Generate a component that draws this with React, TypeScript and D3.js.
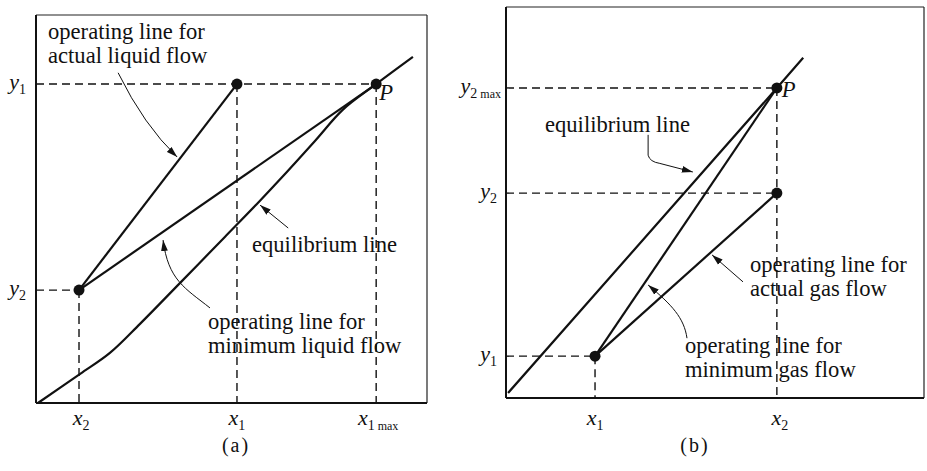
import React from "react";
import * as d3 from "d3";

const W = 927;
const H = 471;
const FONT = "'Liberation Serif', 'DejaVu Serif', serif";

// ---------- Panel (a): minimum liquid flow ----------
const aX2 = 11.0;
const aX1 = 51.4;
const aX1max = 87.0;
const aY1 = 82.2;
const aY2 = 29.1;
const aEquilibrium: [number, number][] = [
  [0.5, 0], [11.3, 7.5], [18.9, 12.9], [26.6, 20.4], [36.8, 30.9],
  [48.3, 42.8], [56.5, 51.3], [63.2, 58.5], [71.4, 67.6], [78.5, 75.6],
  [87.0, 82.2], [96.4, 89.2],
];
const aActual: [number, number][] = [[aX2, aY2], [aX1, aY1]];
const aMinimum: [number, number][] = [[aX2, aY2], [aX1max, aY1]];

// ---------- Panel (b): minimum gas flow ----------
const bX1 = 21.3;
const bX2 = 64.8;
const bY1 = 10.7;
const bY2 = 52.4;
const bY2max = 79.3;
const bEquilibrium: [number, number][] = [[0.5, 1.3], [bX2, bY2max], [71.1, 87.0]];
const bActual: [number, number][] = [[bX1, bY1], [bX2, bY2]];
const bMinimum: [number, number][] = [[bX1, bY1], [bX2, bY2max]];

type Pt = [number, number];

function Arrow({ d }: { d: string }) {
  return <path d={d} fill="none" stroke="#111" strokeWidth={1} markerEnd="url(#head)" />;
}

function MathLabel({ x, y, v, sub, extra, anchor = "middle", size = 22 }:
  { x: number; y: number; v: string; sub: string; extra?: string; anchor?: string; size?: number }) {
  return (
    <text x={x} y={y} textAnchor={anchor} fontFamily={FONT} fontSize={size} fill="#111">
      <tspan fontStyle="italic">{v}</tspan>
      <tspan fontSize={14} dy={5}>{sub}</tspan>
      {extra ? <tspan fontSize={12} dx={3}>{extra}</tspan> : null}
    </text>
  );
}

export default function App() {
  React.useEffect(() => {
    document.body.style.margin = "0";
  }, []);

  // scales for each panel
  const ax = d3.scaleLinear().domain([0, 100]).range([36, 427]);
  const ay = d3.scaleLinear().domain([0, 100]).range([403, 15]);
  const bx = d3.scaleLinear().domain([0, 100]).range([506, 924]);
  const by = d3.scaleLinear().domain([0, 100]).range([398, 7]);

  const lineA = d3.line<Pt>().x((d) => ax(d[0])).y((d) => ay(d[1]));
  const curveA = d3.line<Pt>().x((d) => ax(d[0])).y((d) => ay(d[1])).curve(d3.curveCatmullRom.alpha(0.5));
  const lineB = d3.line<Pt>().x((d) => bx(d[0])).y((d) => by(d[1]));

  // leader paths
  const pA1 = d3.path();
  pA1.moveTo(ax(21.0), ay(85.1));
  pA1.quadraticCurveTo(ax(27.6), ay(71.6), ax(36.1), ay(63.4));
  const pA2 = d3.path();
  pA2.moveTo(ax(44.5), ay(24.5));
  pA2.bezierCurveTo(ax(38.1), ay(29.6), ax(33.8), ay(31.7), ax(32.5), ay(42.0));
  const pA3 = d3.path();
  pA3.moveTo(ax(64.5), ay(45.1));
  pA3.lineTo(ax(57.3), ay(51.0));

  const pB1 = d3.path();
  pB1.moveTo(bx(34.0), by(67.3));
  pB1.lineTo(bx(34.0), by(62.1));
  pB1.quadraticCurveTo(bx(34.4), by(60.4), bx(36.8), by(60.0));
  pB1.lineTo(bx(44.7), by(57.8));
  const pB2 = d3.path();
  pB2.moveTo(bx(56.7), by(29.7));
  pB2.lineTo(bx(49.3), by(36.6));
  const pB3 = d3.path();
  pB3.moveTo(bx(43.3), by(15.3));
  pB3.bezierCurveTo(bx(42.6), by(20.5), bx(39.7), by(23.8), bx(34.0), by(28.9));

  const dash = "8 5";
  const main = { fill: "none", stroke: "#111", strokeWidth: 2.2 } as const;
  const dashed = { stroke: "#111", strokeWidth: 1.4, strokeDasharray: dash } as const;
  const txt = { fontFamily: FONT, fontSize: 22.6, fill: "#111" } as const;

  return (
    <svg width={W} height={H} style={{ display: "block", position: "absolute", left: 0, top: 0, background: "#fff" }}>
      <defs>
        <marker id="head" markerUnits="userSpaceOnUse" markerWidth={12} markerHeight={8} refX={11} refY={4} orient="auto">
          <path d="M0,0.6 L11,4 L0,7.4 z" fill="#111" />
        </marker>
      </defs>
      <rect width={W} height={H} fill="#fff" />

      {/* ----- panel (a) ----- */}
      <g>
        <line x1={ax(0)} x2={ax(100)} y1={ay(100)} y2={ay(100)} stroke="#222" strokeWidth={1.2} />
        <line x1={ax(100)} x2={ax(100)} y1={ay(100)} y2={ay(0)} stroke="#222" strokeWidth={1.2} />
        <line x1={ax(0)} x2={ax(0)} y1={ay(100)} y2={ay(0)} stroke="#111" strokeWidth={2} />
        <line x1={ax(0)} x2={ax(100)} y1={ay(0)} y2={ay(0)} stroke="#111" strokeWidth={2} />

        <line x1={ax(0)} x2={ax(aX1max)} y1={ay(aY1)} y2={ay(aY1)} {...dashed} />
        <line x1={ax(0)} x2={ax(aX2)} y1={ay(aY2)} y2={ay(aY2)} {...dashed} />
        <line x1={ax(aX2)} x2={ax(aX2)} y1={ay(aY2)} y2={ay(0)} {...dashed} />
        <line x1={ax(aX1)} x2={ax(aX1)} y1={ay(aY1)} y2={ay(0)} {...dashed} />
        <line x1={ax(aX1max)} x2={ax(aX1max)} y1={ay(aY1)} y2={ay(0)} {...dashed} />

        <path d={curveA(aEquilibrium) || ""} {...main} />
        <path d={lineA(aActual) || ""} {...main} />
        <path d={lineA(aMinimum) || ""} {...main} />

        <circle cx={ax(aX2)} cy={ay(aY2)} r={5.5} fill="#111" />
        <circle cx={ax(aX1)} cy={ay(aY1)} r={5.5} fill="#111" />
        <circle cx={ax(aX1max)} cy={ay(aY1)} r={5.5} fill="#111" />
        <text x={ax(aX1max) + 3} y={ay(aY1) + 16} {...txt} fontStyle="italic">P</text>

        <Arrow d={pA1.toString()} />
        <Arrow d={pA2.toString()} />
        <Arrow d={pA3.toString()} />

        <text x={48} y={39} {...txt}>operating line for</text>
        <text x={48} y={63} {...txt}>actual liquid flow</text>
        <text x={252} y={252} {...txt}>equilibrium line</text>
        <text x={208} y={329} {...txt}>operating line for</text>
        <text x={208} y={353} {...txt}>minimum liquid flow</text>

        <MathLabel x={ax(0) - 10} y={ay(aY1) + 5} v="y" sub="1" anchor="end" />
        <MathLabel x={ax(0) - 10} y={ay(aY2) + 5} v="y" sub="2" anchor="end" />
        <MathLabel x={ax(aX2) + 2} y={425} v="x" sub="2" />
        <MathLabel x={ax(aX1)} y={425} v="x" sub="1" />
        <MathLabel x={ax(aX1max) + 2} y={425} v="x" sub="1" extra="max" />
        <text x={236} y={452} {...txt} fontSize={20} textAnchor="middle" letterSpacing={2}>(a)</text>
      </g>

      {/* ----- panel (b) ----- */}
      <g>
        <line x1={bx(0)} x2={bx(100)} y1={by(100)} y2={by(100)} stroke="#222" strokeWidth={1.2} />
        <line x1={bx(100)} x2={bx(100)} y1={by(100)} y2={by(0)} stroke="#222" strokeWidth={1.2} />
        <line x1={bx(0)} x2={bx(0)} y1={by(100)} y2={by(0)} stroke="#111" strokeWidth={2} />
        <line x1={bx(0)} x2={bx(100)} y1={by(0)} y2={by(0)} stroke="#111" strokeWidth={2} />

        <line x1={bx(0)} x2={bx(bX2)} y1={by(bY2max)} y2={by(bY2max)} {...dashed} />
        <line x1={bx(0)} x2={bx(bX2)} y1={by(bY2)} y2={by(bY2)} {...dashed} />
        <line x1={bx(0)} x2={bx(bX1)} y1={by(bY1)} y2={by(bY1)} {...dashed} />
        <line x1={bx(bX2)} x2={bx(bX2)} y1={by(bY2max)} y2={by(0)} {...dashed} />
        <line x1={bx(bX1)} x2={bx(bX1)} y1={by(bY1)} y2={by(0)} {...dashed} />

        <path d={lineB(bEquilibrium) || ""} {...main} />
        <path d={lineB(bMinimum) || ""} {...main} />
        <path d={lineB(bActual) || ""} {...main} />

        <circle cx={bx(bX1)} cy={by(bY1)} r={5.5} fill="#111" />
        <circle cx={bx(bX2)} cy={by(bY2)} r={5.5} fill="#111" />
        <circle cx={bx(bX2)} cy={by(bY2max)} r={5.5} fill="#111" />
        <text x={bx(bX2) + 5} y={by(bY2max) + 9} {...txt} fontStyle="italic">P</text>

        <Arrow d={pB1.toString()} />
        <Arrow d={pB2.toString()} />
        <Arrow d={pB3.toString()} />

        <text x={545} y={132} {...txt}>equilibrium line</text>
        <text x={750} y={272} {...txt}>operating line for</text>
        <text x={750} y={296} {...txt}>actual gas flow</text>
        <text x={685} y={353} {...txt}>operating line for</text>
        <text x={685} y={377} {...txt}>minimum gas flow</text>

        <MathLabel x={bx(0) - 5} y={by(bY2max) + 5} v="y" sub="2" extra="max" anchor="end" />
        <MathLabel x={bx(0) - 9} y={by(bY2) + 5} v="y" sub="2" anchor="end" />
        <MathLabel x={bx(0) - 9} y={by(bY1) + 5} v="y" sub="1" anchor="end" />
        <MathLabel x={bx(bX1)} y={425} v="x" sub="1" />
        <MathLabel x={bx(bX2) + 3} y={425} v="x" sub="2" />
        <text x={695} y={452} {...txt} fontSize={20} textAnchor="middle" letterSpacing={2}>(b)</text>
      </g>
    </svg>
  );
}
